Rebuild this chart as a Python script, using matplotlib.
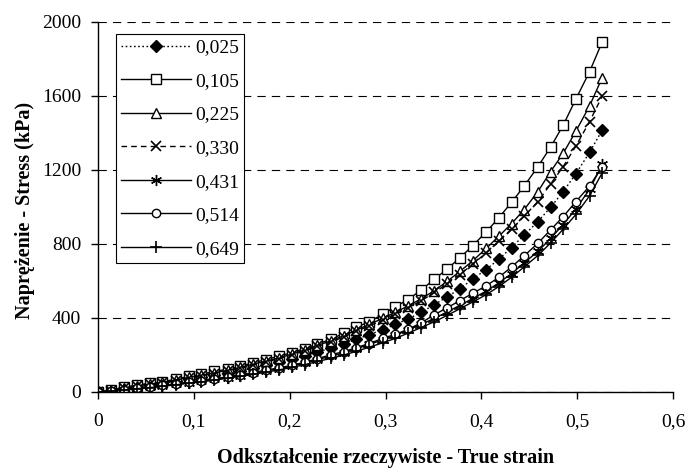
import matplotlib
matplotlib.use("Agg")
import matplotlib.pyplot as plt

strain = [0, 0.0132, 0.0275, 0.0407, 0.0539, 0.0672, 0.0814, 0.0946, 0.1079, 0.1211,
          0.1354, 0.1486, 0.1618, 0.1750, 0.1893, 0.2025, 0.2158, 0.2290, 0.2432, 0.2565,
          0.2697, 0.2829, 0.2972, 0.3104, 0.3236, 0.3369, 0.3511, 0.3643, 0.3776, 0.3908,
          0.4050, 0.4183, 0.4315, 0.4447, 0.4590, 0.4722, 0.4854, 0.4987, 0.5129, 0.5262]

s_0025 = [0, 7, 19, 29, 37, 46, 57, 68, 79, 90,
          103, 116, 130, 145, 160, 177, 196, 216, 238, 260,
          285, 310, 337, 365, 395, 430, 472, 515, 557, 610,
          662, 718, 781, 848, 921, 998, 1083, 1180, 1295, 1416]
s_0105 = [0, 9, 25, 38, 47, 56, 69, 85, 95, 112,
          123, 140, 158, 175, 195, 213, 235, 260, 285, 318,
          350, 380, 420, 462, 500, 550, 610, 665, 725, 790,
          865, 942, 1025, 1113, 1218, 1323, 1442, 1584, 1731, 1893]
s_0225 = [0, 8, 22, 34, 43, 52, 65, 79, 90, 104,
          117, 133, 150, 167, 185, 205, 228, 252, 277, 305,
          335, 365, 398, 432, 465, 503, 548, 598, 652, 708,
          776, 842, 910, 986, 1083, 1191, 1290, 1410, 1546, 1700]
s_0330 = [0, 8, 21, 32, 41, 50, 62, 76, 87, 100,
          113, 128, 145, 162, 180, 200, 222, 246, 270, 298,
          328, 357, 388, 422, 455, 492, 538, 585, 635, 690,
          752, 815, 880, 950, 1029, 1124, 1218, 1330, 1461, 1600]
s_0431 = [0, 5, 12, 19, 26, 33, 42, 50, 59, 68,
          78, 89, 101, 113, 127, 141, 157, 175, 193, 212,
          234, 257, 282, 307, 335, 365, 398, 433, 468, 505,
          545, 590, 640, 698, 760, 830, 905, 990, 1095, 1230]
s_0514 = [0, 5, 13, 21, 28, 36, 44, 53, 62, 72,
          82, 93, 105, 118, 131, 145, 161, 180, 202, 218,
          240, 262, 290, 312, 339, 373, 418, 455, 494, 533,
          574, 620, 676, 736, 804, 876, 948, 1029, 1113, 1218]
s_0649 = [0, 4, 11, 18, 24, 31, 39, 47, 55, 64,
          74, 84, 95, 107, 120, 133, 148, 165, 182, 200,
          220, 242, 266, 290, 318, 348, 380, 414, 450, 486,
          526, 570, 620, 676, 738, 805, 880, 960, 1060, 1185]

labels = ["0,025", "0,105", "0,225", "0,330", "0,431", "0,514", "0,649"]
xticks = [0, 0.1, 0.2, 0.3, 0.4, 0.5, 0.6]
xticklabels = ["0", "0,1", "0,2", "0,3", "0,4", "0,5", "0,6"]
yticks = [0, 400, 800, 1200, 1600, 2000]

plt.rcParams['font.family'] = ['Liberation Serif', 'DejaVu Serif']

W, H = 687, 468
fig = plt.figure(figsize=(W / 100, H / 100), dpi=100)
L, R, T, B = 98, 673, 22, 392
ax = fig.add_axes([L / W, 1 - B / H, (R - L) / W, (B - T) / H])

series = [s_0025, s_0105, s_0225, s_0330, s_0431, s_0514, s_0649]
styles = [
    dict(marker='D', ls=(0, (1.2, 1.8)), mfc='black', ms=6),
    dict(marker='s', ls='-', mfc='white', ms=7),
    dict(marker='^', ls='-', mfc='white', ms=7),
    dict(marker='x', ls=(0, (4, 3)), mfc='black', ms=7, mew=1.2),
    dict(marker=(6, 2, 0), ls='-', mfc='black', ms=8, mew=1.0),
    dict(marker='o', ls='-', mfc='white', ms=6),
    dict(marker='+', ls='-', mfc='black', ms=9, mew=1.2),
]
for ys, lab, st in zip(series, labels, styles):
    kw = dict(color='black', lw=1.0, mec='black', label=lab, mew=1.0)
    kw.update(st)
    ax.plot(strain, ys, **kw)

ax.set_xlim(0, 0.6)
ax.set_ylim(0, 2000)
ax.set_xticks(xticks)
ax.set_xticklabels(xticklabels)
ax.set_yticks(yticks)
ax.tick_params(direction='out', length=5, width=1, labelsize=14, colors='black')
ax.tick_params(axis='x', pad=10)
ax.tick_params(axis='y', pad=7)
ax.yaxis.grid(True, color='black', ls=(0, (7.5, 5.5)), lw=0.8)
ax.set_axisbelow(True)
for sp in ['top', 'right']:
    ax.spines[sp].set_visible(False)
for sp in ['left', 'bottom']:
    ax.spines[sp].set_linewidth(1.0)

ax.set_xlabel("Odkształcenie rzeczywiste - True strain", fontsize=14.5, fontweight='bold')
ax.set_ylabel("Naprężenie - Stress (kPa)", fontsize=14.5, fontweight='bold')
ax.xaxis.set_label_coords(0.5, (B - 448) / (B - T))
ax.yaxis.set_label_coords((35 - L) / (R - L), 0.49)

leg = ax.legend(loc='upper left', bbox_to_anchor=((116 - L) / (R - L), (B - 34) / (B - T)),
                borderaxespad=0, fontsize=14, frameon=True, fancybox=False,
                edgecolor='black', framealpha=1, handlelength=3.6, handletextpad=0.2,
                labelspacing=0.82, borderpad=0.25)
leg.get_frame().set_linewidth(0.8)

fig.savefig("out.png", dpi=100)
